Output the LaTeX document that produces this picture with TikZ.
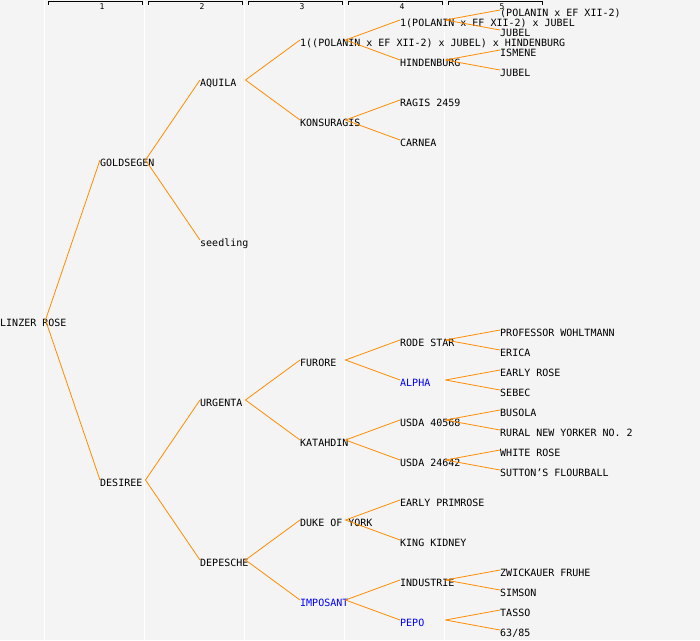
\documentclass[tikz,border=0pt]{standalone}
\usepackage{fontspec}
\setmonofont{DejaVu Sans Mono}
\definecolor{bggray}{HTML}{F4F4F4}
\definecolor{orangeline}{HTML}{FF8C00}
\definecolor{bluetext}{HTML}{0000FF}
\newcommand\lk[2]{\draw[link] ([xshift=45.5pt,yshift=6pt]#1.base west) -- ([yshift=6pt]#2.base west);}
\begin{document}
\begin{tikzpicture}[x=1pt,y=-1pt,
  lbl/.style={anchor=base west, inner sep=0pt, font=\ttfamily\fontsize{10}{12}\selectfont, text=black},
  blu/.style={lbl, text=bluetext},
  hdr/.style={anchor=center, inner sep=0pt, font=\ttfamily\fontsize{8}{9}\selectfont},
  link/.style={draw=orangeline, line width=0.8pt},
  sep/.style={draw=white, line width=1pt},
  brk/.style={draw=black, line width=0.8pt}
]
\useasboundingbox (0,0) rectangle (700,640);
\fill[bggray] (0,0) rectangle (700,640);
\foreach \x in {44,144,244,344,444} \draw[sep] (\x,0) -- (\x,640);
\foreach \i in {1,...,5} {
  \draw[brk] (\i*100-52,4.5) |- (\i*100+42,1.5) -- (\i*100+42,4.5);
  \node[hdr] (h\i) at (\i*100+2,6.5) {\i};
}
% generation 0
\node[lbl] (n) at (0,326) {LINZER ROSE};
% generation 1
\node[lbl] (g) at (100,166) {GOLDSEGEN};
\node[lbl] (d) at (100,486) {DESIREE};
% generation 2
\node[lbl] (aq) at (200,86) {AQUILA};
\node[lbl] (sd) at (200,246) {seedling};
\node[lbl] (ur) at (200,406) {URGENTA};
\node[lbl] (dp) at (200,566) {DEPESCHE};
% generation 3
\node[lbl] (pj) at (300,46) {1((POLANIN x EF XII-2) x JUBEL) x HINDENBURG};
\node[lbl] (ko) at (300,126) {KONSURAGIS};
\node[lbl] (fu) at (300,366) {FURORE};
\node[lbl] (ka) at (300,446) {KATAHDIN};
\node[lbl] (dy) at (300,526) {DUKE OF YORK};
\node[blu] (im) at (300,606) {IMPOSANT};
% generation 4
\node[lbl] (p1) at (400,26) {1(POLANIN x EF XII-2) x JUBEL};
\node[lbl] (hi) at (400,66) {HINDENBURG};
\node[lbl] (ra) at (400,106) {RAGIS 2459};
\node[lbl] (ca) at (400,146) {CARNEA};
\node[lbl] (rs) at (400,346) {RODE STAR};
\node[blu] (al) at (400,386) {ALPHA};
\node[lbl] (u1) at (400,426) {USDA 40568};
\node[lbl] (u2) at (400,466) {USDA 24642};
\node[lbl] (ep) at (400,506) {EARLY PRIMROSE};
\node[lbl] (kk) at (400,546) {KING KIDNEY};
\node[lbl] (ind) at (400,586) {INDUSTRIE};
\node[blu] (pe) at (400,626) {PEPO};
% generation 5
\node[lbl] (q1) at (500,16) {(POLANIN x EF XII-2)};
\node[lbl] (q2) at (500,36) {JUBEL};
\node[lbl] (q3) at (500,56) {ISMENE};
\node[lbl] (q4) at (500,76) {JUBEL};
\node[lbl] (pw) at (500,336) {PROFESSOR WOHLTMANN};
\node[lbl] (er) at (500,356) {ERICA};
\node[lbl] (eR) at (500,376) {EARLY ROSE};
\node[lbl] (se) at (500,396) {SEBEC};
\node[lbl] (bu) at (500,416) {BUSOLA};
\node[lbl] (rn) at (500,436) {RURAL NEW YORKER NO. 2};
\node[lbl] (wr) at (500,456) {WHITE ROSE};
\node[lbl] (sf) at (500,476) {SUTTON’S FLOURBALL};
\node[lbl] (zf) at (500,576) {ZWICKAUER FRUHE};
\node[lbl] (si) at (500,596) {SIMSON};
\node[lbl] (ta) at (500,616) {TASSO};
\node[lbl] (ss) at (500,636) {63/85};
% connectors
\lk{n}{g} \lk{n}{d}
\lk{g}{aq} \lk{g}{sd} \lk{d}{ur} \lk{d}{dp}
\lk{aq}{pj} \lk{aq}{ko} \lk{ur}{fu} \lk{ur}{ka} \lk{dp}{dy} \lk{dp}{im}
\lk{pj}{p1} \lk{pj}{hi} \lk{ko}{ra} \lk{ko}{ca} \lk{fu}{rs} \lk{fu}{al}
\lk{ka}{u1} \lk{ka}{u2} \lk{dy}{ep} \lk{dy}{kk} \lk{im}{ind} \lk{im}{pe}
\lk{p1}{q1} \lk{p1}{q2} \lk{hi}{q3} \lk{hi}{q4} \lk{rs}{pw} \lk{rs}{er}
\lk{al}{eR} \lk{al}{se} \lk{u1}{bu} \lk{u1}{rn} \lk{u2}{wr} \lk{u2}{sf}
\lk{ind}{zf} \lk{ind}{si} \lk{pe}{ta} \lk{pe}{ss}
\end{tikzpicture}
\end{document}
